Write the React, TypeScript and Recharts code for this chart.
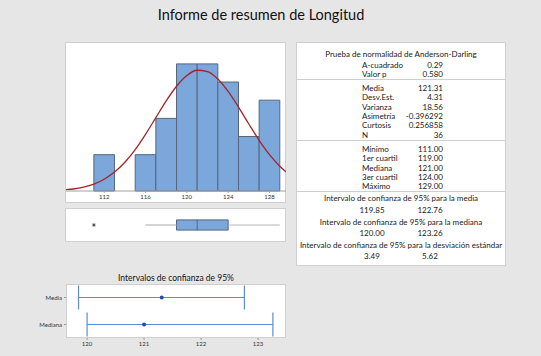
import {
    ComposedChart, ErrorBar, Line, ReferenceArea, ReferenceLine,
    Scatter, ScatterChart, XAxis, YAxis,
} from 'recharts'

// histogram bins (start of each 2-unit bin) and counts
const binStarts = [111, 113, 115, 117, 119, 121, 123, 125, 127]
const binCounts = [2, 0, 2, 4, 7, 7, 6, 3, 5]
const binWidth = 2
const histTicks = [112, 116, 120, 124, 128]

// fitted normal curve
const curveX = [108, 109, 110, 111, 112, 113, 114, 115, 116, 117, 118, 119, 120, 121, 122, 123, 124, 125, 126, 127, 128, 129, 130]
const curveY = [0.06, 0.11, 0.21, 0.38, 0.65, 1.04, 1.58, 2.28, 3.12, 4.04, 4.96, 5.77, 6.36, 6.65, 6.58, 6.17, 5.48, 4.62, 3.69, 2.79, 2.0, 1.36, 0.87]

// boxplot: low whisker, Q1, median, Q3, high whisker
const boxStats = [116, 119, 121, 124, 129]
const outliers = [111]

// summary table
const adLabels = ['A-cuadrado', 'Valor p']
const adValues = ['0.29', '0.580']
const statLabels = ['Media', 'Desv.Est.', 'Varianza', 'Asimetría', 'Curtosis', 'N']
const statValues = ['121.31', '4.31', '18.56', '-0.396292', '0.256858', '36']
const quantLabels = ['Mínimo', '1er cuartil', 'Mediana', '3er cuartil', 'Máximo']
const quantValues = ['111.00', '119.00', '121.00', '124.00', '129.00']
const ciTitles = [
    'Intervalo de confianza de 95% para la media',
    'Intervalo de confianza de 95% para la mediana',
    'Intervalo de confianza de 95% para la desviación estándar',
]
const ciLows = ['119.85', '120.00', '3.49']
const ciHighs = ['122.76', '123.26', '5.62']

// confidence interval plot
const ciNames = ['Media', 'Mediana']
const ciEstimates = [121.31, 121.0]
const ciLower = [119.85, 120.0]
const ciUpper = [122.76, 123.26]
const ciTicks = [120, 121, 122, 123]

const FONT = 'Lato, "Open Sans", sans-serif'
const BLUE = '#7ba7da'
const BAR_EDGE = '#56667c'
const HIST_DOMAIN: [number, number] = [108.3, 129.6]

const panel = (left: number, top: number, width: number, height: number): React.CSSProperties => ({
    position: 'absolute', left, top, width, height,
    background: '#fff', border: '1px solid #d0d0d0', boxSizing: 'border-box',
})

function Histogram() {
    const data = curveX.map((x, i) => ({ x, y: curveY[i] }))
    return (
        <ComposedChart width={221} height={161} data={data} margin={{ top: 1, right: 0, left: 1, bottom: 0 }}>
            <XAxis type="number" dataKey="x" domain={HIST_DOMAIN} allowDataOverflow ticks={histTicks}
                height={12} tickSize={2} tick={{ fontSize: 6, fill: '#333', fontFamily: FONT }}
                stroke="#a0a0a0" />
            <YAxis hide domain={[0, 8.15]} allowDataOverflow />
            {binStarts.map((s, i) => binCounts[i] > 0 && (
                <ReferenceArea key={s} x1={s} x2={s + binWidth} y1={0} y2={binCounts[i]}
                    fill={BLUE} fillOpacity={1} stroke={BAR_EDGE} strokeWidth={1} ifOverflow="visible" />
            ))}
            <Line dataKey="y" type="monotone" stroke="#a3242a" strokeWidth={1.3} dot={false} isAnimationActive={false} />
        </ComposedChart>
    )
}

function BoxPlot() {
    const [lo, q1, med, q3, hi] = boxStats
    const data = outliers.map((x) => ({ x, y: 0.5 }))
    return (
        <ComposedChart width={221} height={34} data={data} margin={{ top: 0, right: 0, left: 1, bottom: 0 }}>
            <XAxis hide type="number" dataKey="x" domain={HIST_DOMAIN} allowDataOverflow />
            <YAxis hide domain={[0, 1]} />
            <ReferenceLine segment={[{ x: lo, y: 0.5 }, { x: q1, y: 0.5 }]} stroke="#b8b8b8" strokeWidth={1.2} />
            <ReferenceLine segment={[{ x: q3, y: 0.5 }, { x: hi, y: 0.5 }]} stroke="#b8b8b8" strokeWidth={1.2} />
            <ReferenceArea x1={q1} x2={q3} y1={0.35} y2={0.65} fill={BLUE} fillOpacity={1} stroke={BAR_EDGE} />
            <ReferenceLine segment={[{ x: med, y: 0.35 }, { x: med, y: 0.65 }]} stroke={BAR_EDGE} />
            <Scatter dataKey="y" isAnimationActive={false}
                shape={(p: any) => (
                    <g stroke="#444" strokeWidth={0.8}>
                        <line x1={p.cx - 1.8} y1={p.cy} x2={p.cx + 1.8} y2={p.cy} />
                        <line x1={p.cx} y1={p.cy - 1.8} x2={p.cx} y2={p.cy + 1.8} />
                        <line x1={p.cx - 1.3} y1={p.cy - 1.3} x2={p.cx + 1.3} y2={p.cy + 1.3} />
                        <line x1={p.cx - 1.3} y1={p.cy + 1.3} x2={p.cx + 1.3} y2={p.cy - 1.3} />
                    </g>
                )} />
        </ComposedChart>
    )
}

function CIPlot() {
    const data = ciNames.map((name, i) => ({
        name, est: ciEstimates[i], err: [ciEstimates[i] - ciLower[i], ciUpper[i] - ciEstimates[i]],
    }))
    return (
        <ScatterChart width={266} height={66} margin={{ top: 0, right: 0, left: 0, bottom: 0 }}>
            <XAxis type="number" dataKey="est" domain={[119.63, 123.49]} allowDataOverflow ticks={ciTicks}
                height={12} tickSize={2} axisLine={false} tick={{ fontSize: 6, fill: '#333', fontFamily: FONT }}
                stroke="#999" />
            <YAxis type="category" dataKey="name" width={46} tickSize={2} axisLine={false} reversed
                tick={{ fontSize: 6, fill: '#333', fontFamily: FONT }} stroke="#999" />
            <Scatter data={data} fill="#1f4f9c" isAnimationActive={false}
                shape={(p: any) => <circle cx={p.cx} cy={p.cy} r={2} fill="#1f4f9c" />}>
                <ErrorBar dataKey="err" direction="x" width={12} stroke="#5b8ed2" strokeWidth={1.2} />
            </Scatter>
        </ScatterChart>
    )
}

function Row({ label, value, top }: { label: string; value: string; top: number }) {
    return (
        <div style={{ position: 'absolute', top, left: 0, width: 210, height: 10, lineHeight: '10px' }}>
            <span style={{ position: 'absolute', left: 65 }}>{label}</span>
            <span style={{ position: 'absolute', right: 64, textAlign: 'right' }}>{value}</span>
        </div>
    )
}

function SummaryTable() {
    const step = 9.3
    const sep = { position: 'absolute' as const, left: 0, width: 208, height: 1, background: '#cfcfcf' }
    return (
        <div style={{ ...panel(296, 42, 210, 224), fontSize: 8, color: '#1a1a1a' }}>
            <div style={{ position: 'absolute', top: 6, width: 208, textAlign: 'center', lineHeight: '10px' }}>
                Prueba de normalidad de Anderson-Darling
            </div>
            {adLabels.map((l, i) => <Row key={l} label={l} value={adValues[i]} top={17 + i * step} />)}
            <div style={{ ...sep, top: 36 }} />
            {statLabels.map((l, i) => <Row key={l} label={l} value={statValues[i]} top={40 + i * step} />)}
            <div style={{ ...sep, top: 97 }} />
            {quantLabels.map((l, i) => <Row key={l} label={l} value={quantValues[i]} top={101 + i * step} />)}
            <div style={{ ...sep, top: 148 }} />
            {ciTitles.map((t, i) => (
                <div key={t}>
                    <div style={{ position: 'absolute', top: 150 + i * 23.5, width: 208, textAlign: 'center', lineHeight: '10px' }}>{t}</div>
                    <span style={{ position: 'absolute', top: 162 + i * 23, left: 75, transform: 'translateX(-50%)', lineHeight: '10px' }}>{ciLows[i]}</span>
                    <span style={{ position: 'absolute', top: 162 + i * 23, left: 133, transform: 'translateX(-50%)', lineHeight: '10px' }}>{ciHighs[i]}</span>
                </div>
            ))}
        </div>
    )
}

export default function App() {
    return (
        <div style={{ position: 'absolute', left: 0, top: 0, width: 541, height: 356, background: '#e6e6e6', overflow: 'hidden', fontFamily: FONT }}>
            <div style={{ position: 'absolute', left: 111, top: 5, width: 300, textAlign: 'center', fontSize: 14.5, lineHeight: '20px', color: '#111' }}>
                Informe de resumen de Longitud
            </div>
            <div style={panel(65, 42, 221, 161)} />
            <div style={{ position: 'absolute', left: 65, top: 42 }}><Histogram /></div>
            <div style={panel(65, 208, 221, 34)} />
            <div style={{ position: 'absolute', left: 65, top: 208 }}><BoxPlot /></div>
            <SummaryTable />
            <div style={{ position: 'absolute', left: 76, top: 272, width: 200, textAlign: 'center', fontSize: 8.5, lineHeight: '12px', color: '#111' }}>
                Intervalos de confianza de 95%
            </div>
            <div style={panel(66, 284, 220, 54)} />
            <div style={{ position: 'absolute', left: 20, top: 284 }}><CIPlot /></div>
        </div>
    )
}
